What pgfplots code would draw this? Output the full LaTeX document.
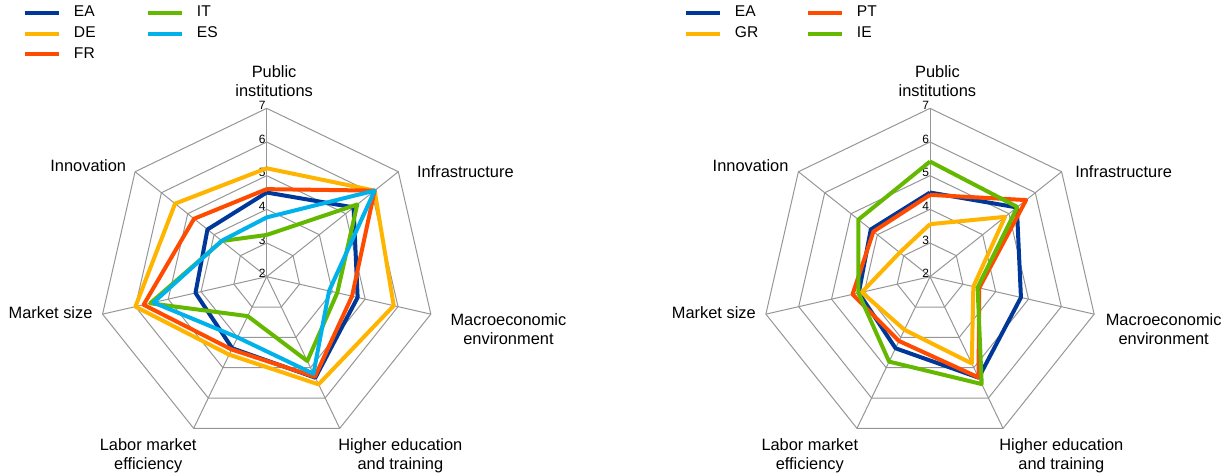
\documentclass[border=0pt]{standalone}
\usepackage{pgfplots}
\pgfplotsset{compat=1.18}
\usepackage{pgfplotstable}
\usepackage{fontspec}
\setmainfont{Liberation Sans}

\definecolor{cEA}{RGB}{0,56,153}
\definecolor{cDE}{RGB}{255,180,0}
\definecolor{cFR}{RGB}{255,75,0}
\definecolor{cIT}{RGB}{101,184,0}
\definecolor{cES}{RGB}{0,177,234}
\definecolor{gridc}{RGB}{150,150,150}

\pgfplotstableread{
ang       EA   DE   FR   IT   ES
90        4.50 5.22 4.60 3.24 3.76
38.5714   5.30 6.10 6.10 5.44 6.10
-12.8571  4.77 5.87 4.60 4.15 3.90
-64.2857  5.33 5.55 5.30 4.78 5.20
-115.7143 4.36 4.57 4.40 3.30 4.00
-167.1429 4.17 6.00 5.75 5.55 5.45
141.4286  4.25 5.48 4.76 3.70 3.71
90        4.50 5.22 4.60 3.24 3.76
}\lefttab

\pgfplotstableread{
ang       EA   GR   PT   IE
90        4.50 3.56 4.43 5.42
38.5714   5.30 4.85 5.65 5.32
-12.8571  4.77 3.32 3.50 3.45
-64.2857  5.33 4.86 5.32 5.54
-115.7143 4.36 3.75 4.12 4.80
-167.1429 4.17 4.08 4.36 4.18
141.4286  4.25 3.15 4.15 4.72
90        4.50 3.56 4.43 5.42
}\righttab

\newcommand{\lab}{\fontsize{8.2}{9.3}\selectfont}
\pgfplotsset{
  radar/.style={
    hide axis, scale only axis, clip=false,
    width=269.36pt, height=202.02pt,
    xmin=-8, xmax=8, ymin=-6, ymax=6,
    anchor=origin,
    legend style={draw=none, fill=none, anchor=north west,
      inner sep=0pt, outer sep=0pt,
      font=\fontsize{7.8}{9}\selectfont, row sep=3.5pt, column sep=0pt,
      nodes={inner sep=0pt}},
    legend cell align=left,
    legend image code/.code={\draw[##1,line width=2pt] (0pt,0pt)--(17pt,0pt); \path[draw=none,fill=none] (0pt,0pt)--(24.5pt,0pt);},
  },
  rline/.style={line width=2pt, line join=round, no marks},
}
\newcommand{\radargrid}{%
  \pgfplotsinvokeforeach{1,...,5}{%
    \draw[gridc, line width=0.5pt] (axis cs:0,##1)
      -- (axis cs:{##1*cos(38.5714)},{##1*sin(38.5714)})
      -- (axis cs:{##1*cos(-12.8571)},{##1*sin(-12.8571)})
      -- (axis cs:{##1*cos(-64.2857)},{##1*sin(-64.2857)})
      -- (axis cs:{##1*cos(-115.7143)},{##1*sin(-115.7143)})
      -- (axis cs:{##1*cos(-167.1429)},{##1*sin(-167.1429)})
      -- (axis cs:{##1*cos(141.4286)},{##1*sin(141.4286)}) -- cycle;
  }%
  \pgfplotsinvokeforeach{90,38.5714,-12.8571,-64.2857,-115.7143,-167.1429,141.4286}{%
    \draw[gridc, line width=0.5pt] (axis cs:0,0) -- (axis cs:{5*cos(##1)},{5*sin(##1)});
  }%
  \pgfplotsinvokeforeach{2,...,7}{%
    \node[anchor=east, inner sep=0pt, font=\fontsize{6}{7}\selectfont] at (axis cs:-0.02,{##1-2+0.09}) {##1};
  }%
}

\begin{document}
\begin{tikzpicture}
% left chart
\begin{axis}[radar, at={(133.35pt,98.65pt)},
  legend columns=3, transpose legend,
  legend style={at={(0.0476,1.170)}}]
\radargrid
\addplot[rline, cEA] table[x expr={(\thisrow{EA}-2)*cos(\thisrow{ang})}, y expr={(\thisrow{EA}-2)*sin(\thisrow{ang})}] {\lefttab};
\addlegendentry{\makebox[36pt][l]{EA}}
\addplot[rline, cDE] table[x expr={(\thisrow{DE}-2)*cos(\thisrow{ang})}, y expr={(\thisrow{DE}-2)*sin(\thisrow{ang})}] {\lefttab};
\addlegendentry{\makebox[36pt][l]{DE}}
\addplot[rline, cFR] table[x expr={(\thisrow{FR}-2)*cos(\thisrow{ang})}, y expr={(\thisrow{FR}-2)*sin(\thisrow{ang})}] {\lefttab};
\addlegendentry{\makebox[36pt][l]{FR}}
\addplot[rline, cIT] table[x expr={(\thisrow{IT}-2)*cos(\thisrow{ang})}, y expr={(\thisrow{IT}-2)*sin(\thisrow{ang})}] {\lefttab};
\addlegendentry{\makebox[36pt][l]{IT}}
\addplot[rline, cES] table[x expr={(\thisrow{ES}-2)*cos(\thisrow{ang})}, y expr={(\thisrow{ES}-2)*sin(\thisrow{ang})}] {\lefttab};
\addlegendentry{\makebox[36pt][l]{ES}}
\node[align=center, font=\lab] at (axis cs:0.22,5.81) {Public\\institutions};
\node[align=center, font=\lab] at (axis cs:5.90,3.11) {Infrastructure};
\node[align=center, font=\lab] at (axis cs:7.18,-1.55) {Macroeconomic\\environment};
\node[align=center, font=\lab] at (axis cs:3.97,-5.31) {Higher education\\and training};
\node[align=center, font=\lab] at (axis cs:-3.52,-5.31) {Labor market\\efficiency};
\node[align=center, font=\lab] at (axis cs:-6.42,-1.06) {Market size};
\node[align=center, font=\lab] at (axis cs:-5.30,3.29) {Innovation};
\end{axis}
% right chart
\begin{axis}[radar, at={(465pt,98.65pt)},
  legend columns=2, transpose legend,
  legend style={at={(0.0432,1.170)}}]
\radargrid
\addplot[rline, cEA] table[x expr={(\thisrow{EA}-2)*cos(\thisrow{ang})}, y expr={(\thisrow{EA}-2)*sin(\thisrow{ang})}] {\righttab};
\addlegendentry{\makebox[35.5pt][l]{EA}}
\addplot[rline, cDE] table[x expr={(\thisrow{GR}-2)*cos(\thisrow{ang})}, y expr={(\thisrow{GR}-2)*sin(\thisrow{ang})}] {\righttab};
\addlegendentry{\makebox[35.5pt][l]{GR}}
\addplot[rline, cFR] table[x expr={(\thisrow{PT}-2)*cos(\thisrow{ang})}, y expr={(\thisrow{PT}-2)*sin(\thisrow{ang})}] {\righttab};
\addlegendentry{\makebox[35.5pt][l]{PT}}
\addplot[rline, cIT] table[x expr={(\thisrow{IE}-2)*cos(\thisrow{ang})}, y expr={(\thisrow{IE}-2)*sin(\thisrow{ang})}] {\righttab};
\addlegendentry{\makebox[35.5pt][l]{IE}}
\node[align=center, font=\lab] at (axis cs:0.22,5.81) {Public\\institutions};
\node[align=center, font=\lab] at (axis cs:5.75,3.11) {Infrastructure};
\node[align=center, font=\lab] at (axis cs:6.94,-1.55) {Macroeconomic\\environment};
\node[align=center, font=\lab] at (axis cs:3.90,-5.31) {Higher education\\and training};
\node[align=center, font=\lab] at (axis cs:-3.57,-5.31) {Labor market\\efficiency};
\node[align=center, font=\lab] at (axis cs:-6.42,-1.06) {Market size};
\node[align=center, font=\lab] at (axis cs:-5.33,3.29) {Innovation};
\end{axis}
\pgfresetboundingbox
\useasboundingbox (0pt,0pt) rectangle (612pt,237pt);
\end{tikzpicture}
\end{document}
